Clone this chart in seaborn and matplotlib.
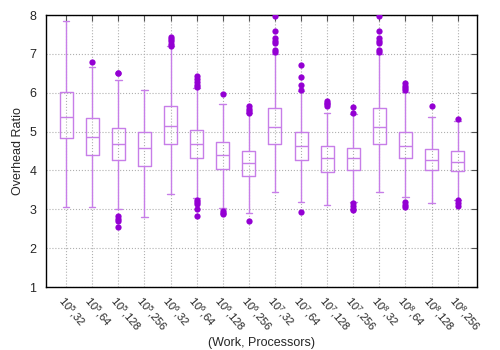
import numpy as np
import pandas as pd
import matplotlib
matplotlib.use("Agg")
import matplotlib.pyplot as plt
import seaborn as sns

# Box statistics (Overhead Ratio per Work/Processors config)
labels = ['$10^5$,32', '$10^5$,64', '$10^5$,128', '$10^5$,256',
          '$10^6$,32', '$10^6$,64', '$10^6$,128', '$10^6$,256',
          '$10^7$,32', '$10^7$,64', '$10^7$,128', '$10^7$,256',
          '$10^8$,32', '$10^8$,64', '$10^8$,128', '$10^8$,256']
whislo = [3.07, 3.07, 3.00, 2.81, 3.40, 3.28, 3.04, 2.90, 3.45, 3.19, 3.11, 3.18, 3.45, 3.32, 3.16, 3.25]
q1 = [4.83, 4.41, 4.26, 4.12, 4.67, 4.33, 4.05, 3.87, 4.69, 4.26, 3.95, 4.00, 4.69, 4.31, 4.00, 3.98]
med = [5.37, 4.87, 4.67, 4.57, 5.15, 4.68, 4.41, 4.20, 5.13, 4.63, 4.31, 4.31, 5.13, 4.64, 4.26, 4.23]
q3 = [6.03, 5.34, 5.10, 4.98, 5.67, 5.04, 4.73, 4.51, 5.62, 4.98, 4.62, 4.59, 5.62, 4.98, 4.56, 4.50]
whishi = [7.84, 6.65, 6.33, 6.08, 7.21, 6.11, 5.70, 5.48, 7.01, 6.05, 5.47, 5.46, 7.01, 6.01, 5.38, 5.27]
outliers = [
    [],
    [6.78],
    [6.52, 6.52, 2.82, 2.75, 2.69, 2.55],
    [],
    [7.44, 7.38, 7.32, 7.25, 7.21],
    [6.43, 6.35, 6.27, 6.20, 6.15, 3.23, 3.18, 3.13, 3.00, 2.82],
    [5.98, 2.95, 2.90, 2.87],
    [5.65, 5.58, 5.52, 5.47, 2.70],
    [7.98, 7.60, 7.40, 7.33, 7.29, 7.10, 7.05],
    [6.72, 6.40, 6.20, 6.08, 2.92],
    [5.79, 5.74, 5.70, 5.65],
    [5.64, 5.49, 3.15, 3.08, 3.02, 2.98],
    [7.98, 7.60, 7.40, 7.33, 7.29, 7.10, 7.05],
    [6.24, 6.18, 6.12, 6.07, 3.19, 3.12, 3.06],
    [5.65],
    [5.33, 3.23, 3.16, 3.08],
]

# five values per box -> seaborn's quartiles land exactly on them
box_rows = []
for i, lab in enumerate(labels):
    for v in (whislo[i], q1[i], med[i], q3[i], whishi[i]):
        box_rows.append((lab, v))
box_df = pd.DataFrame(box_rows, columns=['cfg', 'ratio'])

out_rows = [(lab, v) for lab, vals in zip(labels, outliers) for v in vals]
out_df = pd.DataFrame(out_rows, columns=['cfg', 'ratio'])

sns.set_theme(style='white')
plt.rcParams['font.family'] = ['Liberation Sans', 'DejaVu Sans']
plt.rcParams['mathtext.fontset'] = 'custom'
plt.rcParams['mathtext.rm'] = 'Liberation Sans'
plt.rcParams['mathtext.default'] = 'regular'

fig = plt.figure(figsize=(5, 3.5), dpi=100)
ax = fig.add_axes([0.092, 0.18, 0.862, 0.777])

sns.boxplot(data=box_df, x='cfg', y='ratio', order=labels, whis=(0, 100),
            fill=False, color='#c77ee8', width=0.5, linewidth=1.0,
            showfliers=False, ax=ax)
sns.stripplot(data=out_df, x='cfg', y='ratio', order=labels, jitter=False,
              color='#9400d3', size=4.5, ax=ax)

ax.set_xlim(-0.77, 15.74)
ax.set_ylim(1, 8)
ax.set_yticks(range(1, 9))
ax.set_axisbelow(True)
ax.grid(True, linestyle=':', color='#b0b0b0', linewidth=0.8)
for s in ax.spines.values():
    s.set_visible(True)
    s.set_color('black')
    s.set_linewidth(1)
ax.tick_params(direction='in', top=True, right=True, length=4, width=0.8,
               labelsize=9, color='#555555')
ax.tick_params(axis='y', pad=7)
ax.set_xticks(range(len(labels)))
ax.set_xticklabels(labels, rotation=-50, ha='left', va='top',
                   rotation_mode='anchor', fontsize=8)
ax.tick_params(axis='x', pad=5)
ax.set_xlabel('(Work, Processors)', fontsize=9, labelpad=2)
ax.set_ylabel('Overhead Ratio', fontsize=9)

fig.savefig('out.png', dpi=100)
